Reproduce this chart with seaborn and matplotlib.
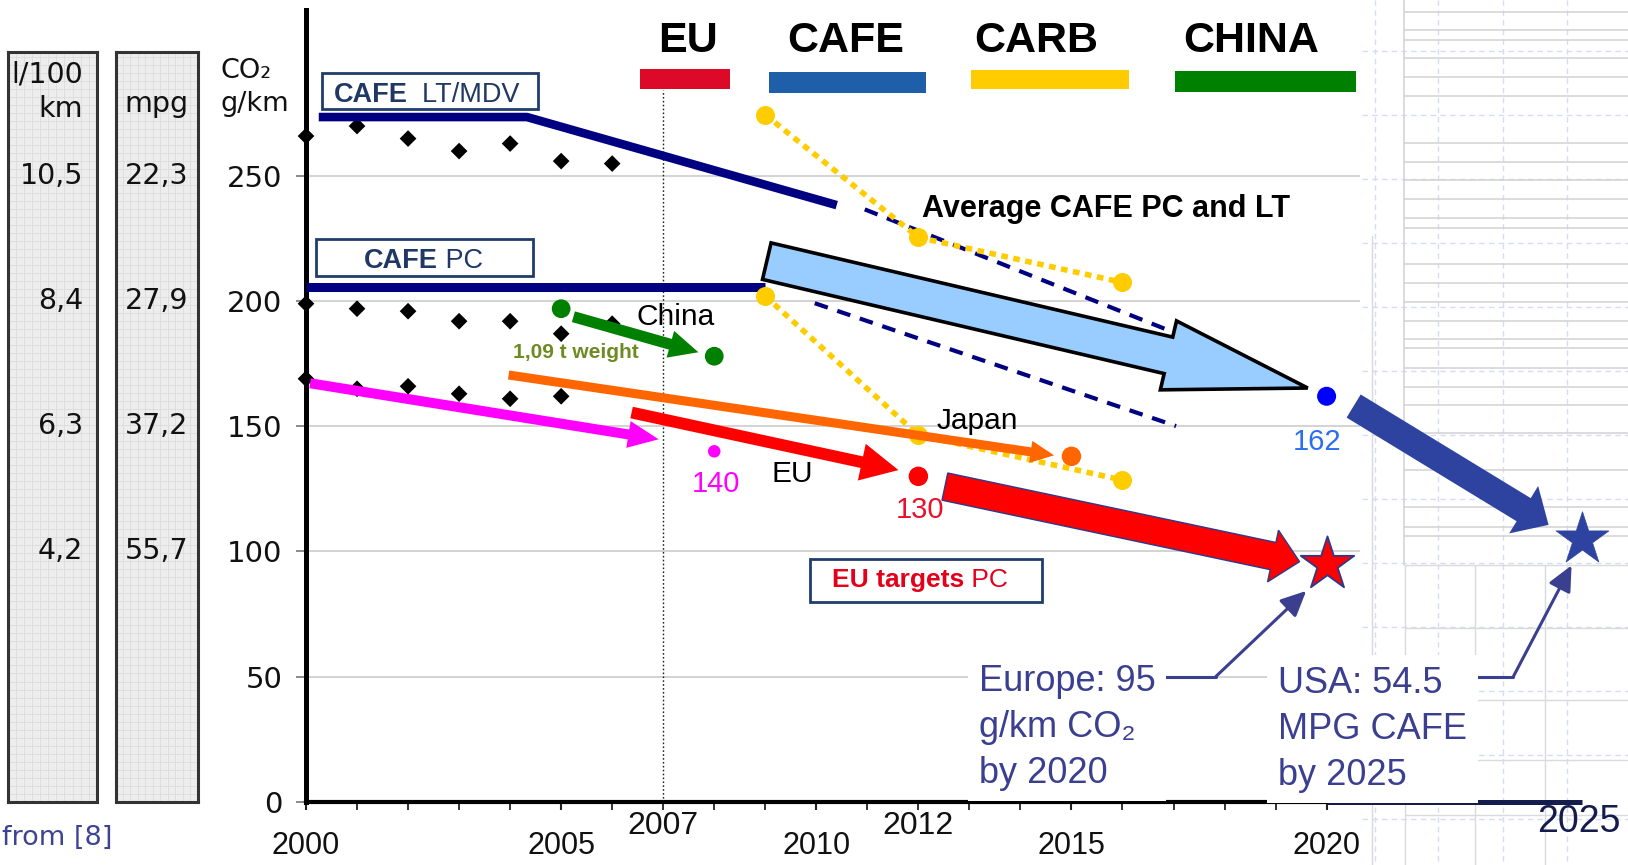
import matplotlib
matplotlib.use("Agg")
import matplotlib.pyplot as plt
import matplotlib.transforms as mtransforms
from matplotlib.patches import Rectangle, FancyArrowPatch, ArrowStyle
from matplotlib.lines import Line2D
from matplotlib.text import Annotation
from matplotlib.ticker import FixedLocator, FuncFormatter, MultipleLocator
import seaborn as sns

# ---------------- data (g CO2 / km) ----------------
fleet_years = [2000, 2001, 2002, 2003, 2004, 2005, 2006]
fleet_lt = [266, 270, 265, 260, 263, 256, 255]
fleet_pc = [199, 197, 196, 192, 192, 187, 191]
fleet_low_years = [2000, 2001, 2002, 2003, 2004, 2005]
fleet_low = [169, 165, 166, 163, 161, 162]

cafe_lt_years = [2000.25, 2004.33, 2010.4]
cafe_lt = [273.6, 273.6, 238.4]
cafe_pc_years = [2000.0, 2009.0]
cafe_pc = [205.8, 205.8]
avg_lt_years = [2010.95, 2016.9]
avg_lt = [236.7, 188.4]
avg_pc_years = [2009.97, 2017.05]
avg_pc = [199.2, 150.1]

carb_years = [2009, 2012, 2016]
carb_high = [274.5, 225.5, 207.5]
carb_low = [202.0, 146.5, 128.5]

china_years = [2005, 2008]
china_co2 = [197, 178]

# trend arrows: start year, start value, end year, end value
pc_trend = [2000.08, 167.2, 2006.91, 144.8]
japan_trend = [2003.97, 170.5, 2014.66, 138.4]
eu_trend = [2006.38, 155.5, 2011.61, 132.5]
china_trend = [2005.24, 193.8, 2007.69, 179.6]
cafe_trend = [2009.03, 216.0, 2019.63, 165.3]
eu_target_trend = [2012.52, 125.9, 2019.47, 95.9]
usa_target_trend = [2020.53, 158.1, 2024.35, 110.6]

pc_2008 = (2008, 140)
eu_2012 = (2012, 130)
japan_2015 = (2015, 138)
cafe_2020 = (2020, 162)
eu_2020 = (2020, 95)
usa_2025 = (2025, 105)

y_ticks = [0, 50, 100, 150, 200, 250]
x_major = [2000, 2005, 2010, 2015, 2020]
x_marked = [2007, 2012]
co2_levels = [250, 200, 150, 100]
l100_labels = ["10,5", "8,4", "6,3", "4,2"]
mpg_labels = ["22,3", "27,9", "37,2", "55,7"]
programs = ["EU", "CAFE", "CARB", "CHINA"]
program_colors = ["#DC0A28", "#1F5FAA", "#FFCC00", "#008000"]

# ---------------- layout helpers (figure pixels) ----------------
W, H = 1628, 865
X0_PX, PX_PER_YEAR = 306.0, 51.03
Y0_PX, PX_PER_UNIT = 801.6, 2.502
TOP_PX, RIGHT_PX = 10.4, 1360.0


def fx(px):
    return px / W


def fy(py):
    return 1 - py / H


sns.set_theme(style="white")
plt.rcParams["font.family"] = ["Liberation Sans", "DejaVu Sans"]
plt.rcParams["axes.unicode_minus"] = False

NAVY = "#000080"
ANNOT = "#3B3F8F"
INK = "#111111"

fig = plt.figure(figsize=(W / 100, H / 100), dpi=100)
fig.patch.set_facecolor("white")

# ---------------- faint drawing sheet behind the right margin ----------------
bg_kw = dict(transform=fig.transFigure, zorder=-5)
for xv in [1375, 1438, 1503, 1567]:
    fig.add_artist(Line2D([fx(xv), fx(xv)], [fy(0), fy(H)], color="#D3DEF5",
                          lw=1.0, ls=(0, (4, 3)), **bg_kw))
for yv in [51, 115, 179, 243, 307, 371, 435, 499, 563, 627, 691, 755, 819]:
    fig.add_artist(Line2D([fx(1362), fx(W)], [fy(yv), fy(yv)], color="#D3DEF5",
                          lw=1.0, ls=(0, (4, 3)), **bg_kw))
for yv in [12, 30, 40, 58, 77, 96, 143, 162, 180, 199, 218, 228, 264, 283, 302,
           321, 339, 348, 368, 387, 405, 433, 470, 507, 527, 536]:
    fig.add_artist(Line2D([fx(1404), fx(W)], [fy(yv), fy(yv)], color="#D2D2D2",
                          lw=1.1, **bg_kw))
fig.add_artist(Line2D([fx(1404), fx(1404)], [fy(0), fy(565)], color="#D2D2D2", lw=1.1, **bg_kw))
fig.add_artist(Line2D([fx(1372), fx(1372)], [fy(236), fy(865)], color="#D8D8D8", lw=1.0, **bg_kw))
for yv in [565, 628, 700, 760, 815]:
    fig.add_artist(Line2D([fx(1405), fx(W)], [fy(yv), fy(yv)], color="#DADADA", lw=1.0, **bg_kw))
for xv in [1405, 1475, 1545]:
    fig.add_artist(Line2D([fx(xv), fx(xv)], [fy(565), fy(865)], color="#DADADA", lw=1.0, **bg_kw))

# ---------------- main axes ----------------
ax = fig.add_axes([fx(X0_PX), fy(Y0_PX), (RIGHT_PX - X0_PX) / W, (Y0_PX - TOP_PX) / H])
ax.set_facecolor("white")

# fleet averages (diamonds)
for yrs, vals in [(fleet_years, fleet_lt), (fleet_years, fleet_pc), (fleet_low_years, fleet_low)]:
    sns.scatterplot(x=yrs, y=vals, ax=ax, marker="D", s=8.5 ** 2, color="black",
                    edgecolor="none", clip_on=False, zorder=3)

# CAFE standards
sns.lineplot(x=cafe_lt_years, y=cafe_lt, ax=ax, sort=False, estimator=None,
             color=NAVY, lw=6.2, solid_capstyle="butt", zorder=3)
sns.lineplot(x=cafe_pc_years, y=cafe_pc, ax=ax, sort=False, estimator=None,
             color=NAVY, lw=6.5, solid_capstyle="butt", zorder=3)
for yrs, vals in [(avg_lt_years, avg_lt), (avg_pc_years, avg_pc)]:
    sns.lineplot(x=yrs, y=vals, ax=ax, sort=False, estimator=None, color=NAVY,
                 lw=3.0, ls=(0, (3.3, 2.4)), dash_capstyle="butt", zorder=3)

# CARB
for vals in [carb_high, carb_low]:
    sns.lineplot(x=carb_years, y=vals, ax=ax, sort=False, estimator=None, color="#FFCC00",
                 lw=4.0, ls=(0, (1.2, 1.0)), dash_capstyle="butt", marker="o",
                 ms=13.7, mew=0, zorder=3.5)

# 2007 reference line
ax.vlines(x_marked[0], 0, 284.5, colors="#222222", lw=1.0, linestyles=(0, (1.2, 1.6)), zorder=2)


def block_arrow(seg, tail, head_w, head_l, face, edge=None, lw=0.0, z=4):
    style = ArrowStyle.Simple(head_length=head_l, head_width=head_w, tail_width=tail)
    patch = FancyArrowPatch((seg[0], seg[1]), (seg[2], seg[3]), arrowstyle=style,
                            mutation_scale=1, facecolor=face,
                            edgecolor=edge if edge else face, linewidth=lw,
                            shrinkA=0, shrinkB=0, joinstyle="miter",
                            transform=ax.transData, clip_on=False, zorder=z)
    ax.add_patch(patch)


block_arrow(pc_trend, 7.2, 19.5, 22, "#FF00FF")
block_arrow(japan_trend, 6.5, 16, 17, "#FF6600", z=4.2)
block_arrow(eu_trend, 8.5, 27, 27, "#FF0000")
block_arrow(china_trend, 8.0, 20, 21, "#008000")
block_arrow(cafe_trend, 27, 51, 103, "#99CCFF", edge="black", lw=2.6, z=4.5)
block_arrow(eu_target_trend, 20, 38, 19.5, "#FF0000", edge="#2B3A8C", lw=1.0, z=4.5)
block_arrow(usa_target_trend, 19.5, 40, 21, "#2E43A0", z=4.5)

# milestone dots
sns.scatterplot(x=china_years, y=china_co2, ax=ax, s=13.5 ** 2, color="#008000",
                edgecolor="none", zorder=5)
for (xv, yv), col, size in [(pc_2008, "#FF00FF", 9), (eu_2012, "#FF0000", 14),
                            (japan_2015, "#FF6600", 14), (cafe_2020, "#0000FF", 13.7)]:
    sns.scatterplot(x=[xv], y=[yv], ax=ax, s=size ** 2, color=col, edgecolor="none",
                    clip_on=False, zorder=5)

# 2020 / 2025 targets
sns.scatterplot(x=[eu_2020[0]], y=[eu_2020[1]], ax=ax, marker="*", s=40.5 ** 2,
                color="#FF0000", edgecolor="#2B3A8C", linewidth=1.3, clip_on=False, zorder=6)
sns.scatterplot(x=[usa_2025[0]], y=[usa_2025[1]], ax=ax, marker="*", s=40 ** 2,
                color="#2E43A0", edgecolor="#2E43A0", linewidth=0.5, clip_on=False, zorder=6)

# value labels under the milestone dots
for (xv, yv), txt, col, dx, dy in [(pc_2008, "140", "#FF00FF", 1, -29.5),
                                   (eu_2012, "130", "#E8102A", 1, -30),
                                   (cafe_2020, "162", "#2A6FF0", -6.7, -39)]:
    ax.annotate(txt, xy=(xv, yv), xytext=(dx, dy), textcoords="offset points",
                ha="center", va="baseline", fontsize=21, color=col, zorder=7,
                annotation_clip=False)

# axes styling
ax.set_xlim(2000, 2000 + (RIGHT_PX - X0_PX) / PX_PER_YEAR)
ax.set_ylim(0, (Y0_PX - TOP_PX) / PX_PER_UNIT)
sns.despine(ax=ax, top=True, right=True)
ax.spines["left"].set_linewidth(3.6)
ax.spines["left"].set_color("black")
ax.spines["bottom"].set_linewidth(3.0)
ax.spines["bottom"].set_color("black")
ax.spines["left"].set_zorder(2.6)

ax.set_yticks(y_ticks)
ax.yaxis.grid(True, color="#CCCCCC", lw=1.2)
ax.xaxis.grid(False)
ax.set_axisbelow(True)
ax.tick_params(axis="y", left=True, length=7, width=1.2, color="#777777", pad=10,
               labelsize=21, labelcolor=INK)
for lab in ax.get_yticklabels():
    lab.set_fontfamily("DejaVu Sans")

ax.set_xticks(x_major)
ax.xaxis.set_minor_locator(FixedLocator(list(range(2000, 2021))))
ax.xaxis.set_minor_formatter(
    FuncFormatter(lambda v, p: str(int(round(v))) if int(round(v)) in x_marked else ""))
ax.tick_params(axis="x", which="major", bottom=True, length=6, width=1.5, color="#222222",
               pad=15, labelsize=22, labelcolor=INK)
ax.tick_params(axis="x", which="minor", bottom=True, length=6, width=1.3, color="#222222",
               pad=1, labelsize=23, labelcolor=INK)

# axis extension to 2025
ax.plot([2020, 2025], [0, 0], color="#141B4D", lw=3.6, solid_capstyle="butt",
        clip_on=False, zorder=3)
ax.annotate("2025", xy=(2025, 0), xytext=(-2, -2), textcoords="offset points",
            ha="center", va="top", fontsize=27, color="#141B4D", annotation_clip=False)

# callouts for the 2020 / 2025 targets
arrow_kw = dict(arrowstyle=ArrowStyle("-|>", head_length=0.7, head_width=0.33),
                mutation_scale=22, color=ANNOT, lw=2.2, shrinkA=0, shrinkB=0)
ax.plot([2016.85, 2017.83], [50, 50], color=ANNOT, lw=2.2, clip_on=False, zorder=6)
ax.annotate("", xy=(2019.6, 84.2), xytext=(2017.83, 50), arrowprops=arrow_kw,
            annotation_clip=False, zorder=6)
ax.plot([2022.71, 2023.66], [50, 50], color=ANNOT, lw=2.2, clip_on=False, zorder=6)
ax.annotate("", xy=(2024.8, 94.4), xytext=(2023.66, 50), arrowprops=arrow_kw,
            annotation_clip=False, zorder=6)

box_kw = dict(boxstyle="square,pad=0.3", fc="white", ec="none")
fig.text(fx(978.6), fy(664), "Europe: 95\ng/km CO₂\nby 2020", ha="left", va="top",
         fontsize=26, color=ANNOT, linespacing=1.4, bbox=box_kw, zorder=6)
fig.text(fx(1278), fy(666), "USA: 54.5\nMPG CAFE\nby 2025", ha="left", va="top",
         fontsize=26, color=ANNOT, linespacing=1.4, bbox=box_kw, zorder=6)

# ---------------- in-plot labels ----------------
fig.text(fx(921.7), fy(216.7), "Average CAFE PC and LT", ha="left", va="baseline",
         fontsize=22, fontweight="bold", color="black", zorder=7)
fig.text(fx(636.7), fy(325), "China", ha="left", va="baseline", fontsize=21.5,
         color="black", zorder=7)
fig.text(fx(937), fy(429.3), "Japan", ha="left", va="baseline", fontsize=21.5,
         color="black", zorder=7)
fig.text(fx(771.9), fy(481.7), "EU", ha="left", va="baseline", fontsize=21.5,
         color="black", zorder=7)
fig.text(fx(513), fy(358.3), "1,09 t weight", ha="left", va="baseline", fontsize=15,
         fontweight="bold", color="#6E8B22", zorder=7)


def label_box(x0, y0, x1, y1, bold, normal, tx, base, color, size):
    fig.add_artist(Rectangle((fx(x0), fy(y1)), (x1 - x0) / W, (y1 - y0) / H,
                             transform=fig.transFigure, fc="white", ec="#1F3D6B",
                             lw=2.0, zorder=6))
    t1 = fig.text(fx(tx), fy(base), bold, ha="left", va="baseline", fontsize=size,
                  fontweight="bold", color=color, zorder=7)
    t2 = Annotation(normal, xy=(1, 0), xycoords=t1, ha="left", va="bottom",
                    fontsize=size, color=color, zorder=7, annotation_clip=False)
    fig.add_artist(t2)


label_box(321.5, 73.3, 537.7, 109, "CAFE", "  LT/MDV", 333.5, 101.7, "#1F3864", 19.5)
label_box(316, 239.3, 533.3, 276, "CAFE", " PC", 363.7, 268.3, "#1F3864", 19.5)
label_box(809.8, 559.3, 1042, 601.7, "EU targets", " PC", 832, 586.7, "#E2001A", 19)

# program key along the top
key_centers = [688.4, 845.8, 1035.8, 1251.0]
key_bars = [(639.6, 69.3, 729.7, 89.3), (769, 71.7, 926, 92.7),
            (971, 69.6, 1129, 89.3), (1175, 71.3, 1356, 91.5)]
for name, col, cx, (x0, y0, x1, y1) in zip(programs, program_colors, key_centers, key_bars):
    fig.text(fx(cx), fy(51.7), name, ha="center", va="baseline", fontsize=31,
             fontweight="bold", color="black", zorder=7)
    fig.add_artist(Rectangle((fx(x0), fy(y1)), (x1 - x0) / W, (y1 - y0) / H,
                             transform=fig.transFigure, fc=col, ec="none", zorder=7))

# y-axis unit label
fig.text(fx(221), fy(70.6), "CO₂", ha="left", va="center", fontsize=19.5,
         color=INK, family=["DejaVu Sans"])
fig.text(fx(221), fy(104), "g/km", ha="left", va="center", fontsize=19.5,
         color=INK, family=["DejaVu Sans"])

# ---------------- conversion columns ----------------
def side_panel(x0, x1, labels, label_x, ha):
    pa = fig.add_axes([fx(x0), fy(Y0_PX), (x1 - x0) / W, (Y0_PX - 52) / H])
    pa.set_xlim(0, 1)
    pa.set_ylim(0, (Y0_PX - 52) / PX_PER_UNIT)
    pa.set_facecolor("#EDEDED")
    pa.xaxis.set_minor_locator(MultipleLocator(1 / 11))
    pa.yaxis.set_minor_locator(MultipleLocator(3.2))
    pa.grid(True, which="minor", color="#DCDCDC", lw=0.6)
    pa.grid(False, which="major")
    pa.tick_params(which="both", length=0, labelbottom=False, labelleft=False)
    for sp in pa.spines.values():
        sp.set_visible(True)
        sp.set_linewidth(2.2)
        sp.set_color("#333333")
    trans = mtransforms.blended_transform_factory(pa.transAxes, pa.transData)
    for lev, lab in zip(co2_levels, labels):
        pa.text(label_x, lev, lab, transform=trans, ha=ha, va="center", fontsize=20.5,
                color=INK, family=["DejaVu Sans"])
    return pa, trans


pl, tl = side_panel(7.5, 97, l100_labels, 0.845, "right")
pl.text(0.845, (Y0_PX - 74.8) / PX_PER_UNIT, "l/100", transform=tl, ha="right",
        va="center", fontsize=20.5, color=INK, family=["DejaVu Sans"])
pl.text(0.845, (Y0_PX - 109) / PX_PER_UNIT, "km", transform=tl, ha="right",
        va="center", fontsize=20.5, color=INK, family=["DejaVu Sans"])
pm, tm = side_panel(115.5, 197.5, mpg_labels, 0.5, "center")
pm.text(0.5, (Y0_PX - 104) / PX_PER_UNIT, "mpg", transform=tm, ha="center",
        va="center", fontsize=20.5, color=INK, family=["DejaVu Sans"])

# source note
fig.text(fx(2), fy(838), "from [8]", ha="left", va="center", fontsize=19.5,
         color="#3D4593", family=["DejaVu Sans"])

fig.savefig("out.png", dpi=100, facecolor="white")
